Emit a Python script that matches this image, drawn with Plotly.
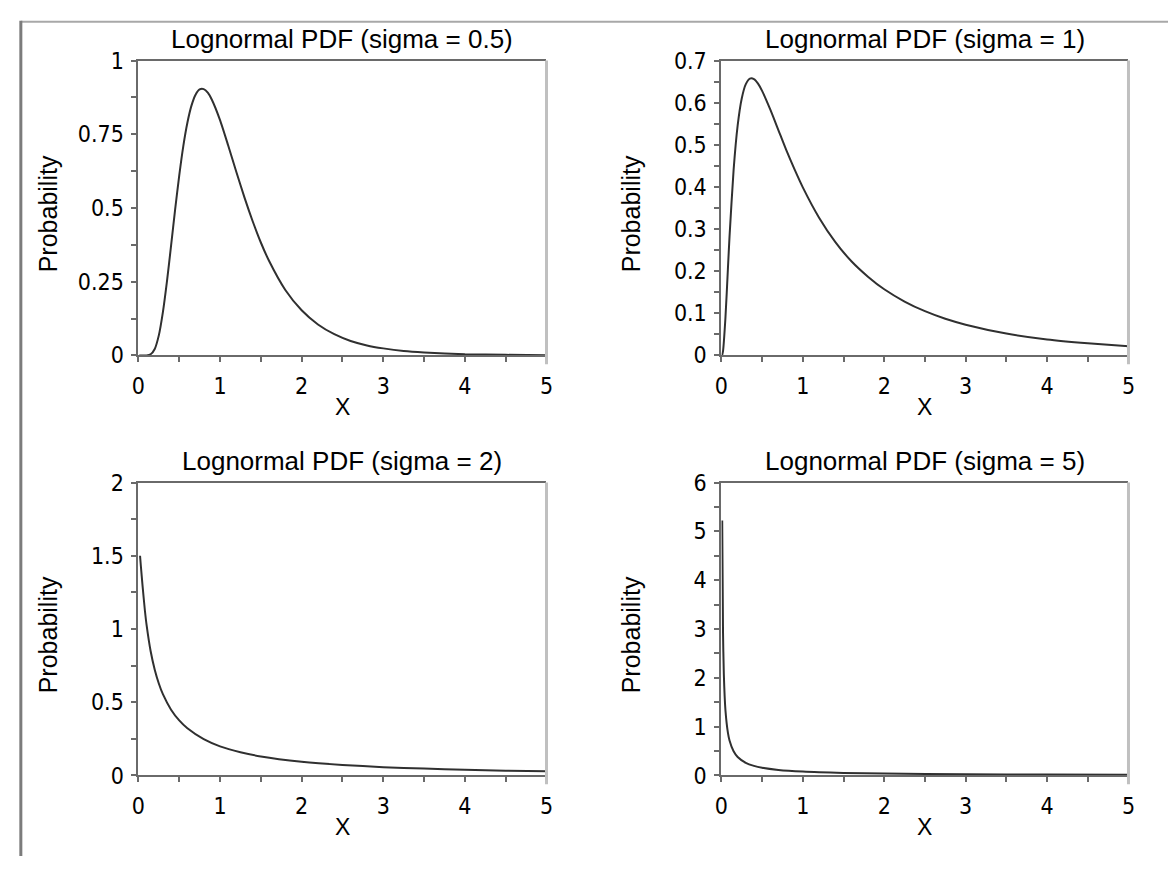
import plotly.graph_objects as go

# ---- data ----
titles = ["Lognormal PDF (sigma = 0.5)", "Lognormal PDF (sigma = 1)",
          "Lognormal PDF (sigma = 2)", "Lognormal PDF (sigma = 5)"]

x_s05 = [0.01, 0.1, 0.15, 0.2, 0.25, 0.3, 0.35, 0.4, 0.45, 0.5, 0.55, 0.6, 0.65, 0.7, 0.75,
         0.8, 0.85, 0.9, 1.0, 1.1, 1.2, 1.3, 1.4, 1.5, 1.6, 1.8, 2.0, 2.2, 2.4, 2.6, 2.8,
         3.0, 3.25, 3.5, 4.0, 4.5, 5.0]
y_s05 = [0.0, 0.0002, 0.004, 0.022, 0.068, 0.147, 0.252, 0.372, 0.495, 0.610, 0.710, 0.789,
         0.847, 0.884, 0.902, 0.903, 0.891, 0.867, 0.798, 0.712, 0.622, 0.535, 0.455, 0.383,
         0.321, 0.222, 0.153, 0.105, 0.072, 0.049, 0.034, 0.024, 0.015, 0.010, 0.004,
         0.002, 0.001]

x_s1 = [0.01, 0.02, 0.05, 0.08, 0.1, 0.15, 0.2, 0.25, 0.3, 0.35, 0.4, 0.45, 0.5, 0.6, 0.7,
        0.8, 0.9, 1.0, 1.2, 1.4, 1.6, 1.8, 2.0, 2.25, 2.5, 2.75, 3.0, 3.5, 4.0, 4.5, 5.0]
y_s1 = [0.001, 0.010, 0.090, 0.205, 0.282, 0.440, 0.546, 0.610, 0.644, 0.657, 0.656, 0.645,
        0.628, 0.584, 0.535, 0.486, 0.441, 0.399, 0.327, 0.269, 0.223, 0.187, 0.157, 0.128,
        0.105, 0.087, 0.073, 0.052, 0.038, 0.029, 0.022]

x_s2 = [0.02, 0.03, 0.05, 0.08, 0.1, 0.15, 0.2, 0.25, 0.3, 0.4, 0.5, 0.6, 0.8, 1.0,
        1.25, 1.5, 2.0, 2.5, 3.0, 3.5, 4.0, 4.5, 5.0]
y_s2 = [1.50, 1.430, 1.299, 1.123, 1.028, 0.848, 0.722, 0.628, 0.555, 0.449, 0.376,
        0.322, 0.248, 0.199, 0.159, 0.130, 0.094, 0.072, 0.057, 0.047, 0.039, 0.033, 0.029]

x_s5 = [0.01, 0.02, 0.03, 0.05, 0.08, 0.1, 0.15, 0.2, 0.3, 0.4, 0.5, 0.7, 1.0, 1.5, 2.0,
        3.0, 4.0, 5.0]
y_s5 = [5.22, 2.94, 2.08, 1.334, 0.878, 0.718, 0.495, 0.379, 0.258, 0.196, 0.158, 0.114,
        0.080, 0.053, 0.040, 0.026, 0.019, 0.015]

series = [(x_s05, y_s05), (x_s1, y_s1), (x_s2, y_s2), (x_s5, y_s5)]
y_max = [1.0, 0.7, 2.0, 6.0]
y_dtick = [0.25, 0.1, 0.5, 1.0]
y_minor = [0.125, 0.05, 0.25, 0.5]
x_ticks = [0, 1, 2, 3, 4, 5]

# ---- layout geometry (pixels of 1175 x 869 canvas) ----
W, H = 1175, 869
boxes = [(133, 546, 49, 353), (723, 1135, 49, 353),
         (133, 546, 484, 786), (723, 1135, 484, 786)]

AX = "#6a6a6a"
AX_LIGHT = "#c0c0c0"
CURVE = "#303030"
FONT = "Liberation Sans"
TICKFONT = "DejaVu Sans Condensed, Liberation Sans Narrow, Liberation Sans"

fig = go.Figure()
layout = dict(width=W, height=H, margin=dict(l=0, r=0, t=0, b=0),
              paper_bgcolor="white", plot_bgcolor="white", showlegend=False,
              font=dict(family=FONT, color="black"))
annotations = []
shapes = []

for i, ((xs, ys), (x0, x1, y0, y1)) in enumerate(zip(series, boxes)):
    n = "" if i == 0 else str(i + 1)
    xa, ya = "x" + n, "y" + n
    fig.add_trace(go.Scatter(x=xs, y=ys, xaxis=xa, yaxis=ya, mode="lines",
                             line=dict(color=CURVE, width=2, shape="spline", smoothing=0.6),
                             hoverinfo="skip"))
    xdom = [x0 / W, x1 / W]
    ydom = [1 - y1 / H, 1 - y0 / H]
    layout["xaxis" + n] = dict(
        domain=xdom, anchor=ya, range=[0, 5], tickvals=x_ticks,
        showgrid=False, zeroline=False, showline=True, mirror=True,
        linecolor=AX, linewidth=2, ticks="outside", ticklen=5, tickwidth=2,
        tickcolor=AX, ticklabelstandoff=4,
        tickfont=dict(family=TICKFONT, size=23, color="black"),
        minor=dict(dtick=0.5, tick0=0, ticks="outside", ticklen=5, tickwidth=2, tickcolor=AX))
    layout["yaxis" + n] = dict(
        domain=ydom, anchor=xa, range=[0, y_max[i]], dtick=y_dtick[i], tick0=0,
        showgrid=False, zeroline=False, showline=True, mirror=False,
        linecolor=AX, linewidth=2, ticks="outside", ticklen=5, tickwidth=2,
        tickcolor=AX, ticklabelstandoff=3,
        tickfont=dict(family=TICKFONT, size=23, color="black"),
        minor=dict(dtick=y_minor[i], tick0=0, ticks="outside", ticklen=5, tickwidth=2,
                   tickcolor=AX))
    # light right spine
    shapes.append(dict(type="line", xref=xa + " domain", yref=ya + " domain",
                       x0=1, x1=1, y0=-0.03, y1=1, line=dict(color=AX_LIGHT, width=3)))
    cx = (x0 + x1) / 2 / W
    annotations.append(dict(text=titles[i], x=cx, y=1 - (y0 - 22) / H, xref="paper",
                            yref="paper", showarrow=False, xanchor="center", yanchor="middle",
                            font=dict(family=FONT, size=26, color="black")))
    annotations.append(dict(text="X", x=cx, y=1 - (y1 + 53) / H, xref="paper",
                            yref="paper", showarrow=False, xanchor="center", yanchor="middle",
                            font=dict(family=FONT, size=23, color="black")))
    annotations.append(dict(text="Probability", x=(x0 - 92) / W,
                            y=1 - ((y0 + y1) / 2 + 6) / H,
                            xref="paper", yref="paper", showarrow=False, textangle=-90,
                            xanchor="center", yanchor="middle",
                            font=dict(family=FONT, size=25, color="black")))

# outer frame lines (top and left)
shapes.append(dict(type="line", xref="paper", yref="paper", x0=14 / W, x1=1,
                   y0=1 - 9 / H, y1=1 - 9 / H, line=dict(color="#a8a8a8", width=2)))
shapes.append(dict(type="line", xref="paper", yref="paper", x0=14 / W, x1=14 / W,
                   y0=0, y1=1 - 8 / H, line=dict(color="#7c7c7c", width=3)))

layout["annotations"] = annotations
layout["shapes"] = shapes
fig.update_layout(**layout)

post = ("document.documentElement.style.margin='0';"
        "document.documentElement.style.padding='0';"
        "document.body.style.margin='0';document.body.style.padding='0';"
        "document.body.style.overflow='hidden';"
        "var d=document.getElementById('{plot_id}');"
        "d.style.position='absolute';d.style.left='0px';d.style.top='0px';")
fig.write_html("out.html", config={"displayModeBar": False}, post_script=post)
